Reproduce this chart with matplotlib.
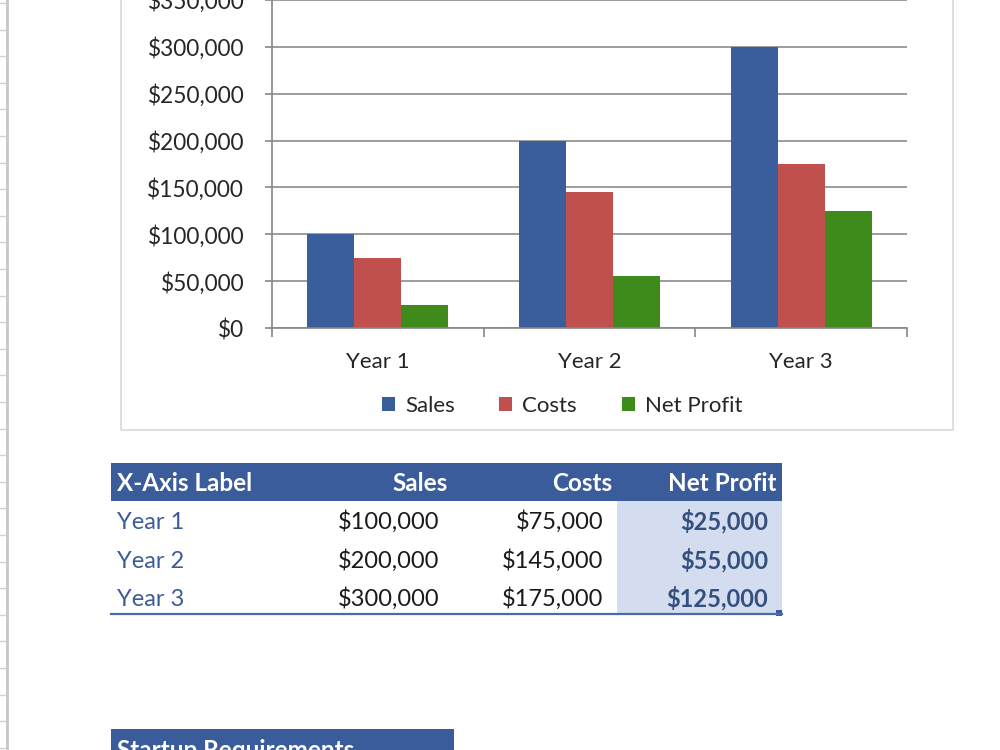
import numpy as np
import matplotlib.pyplot as plt
from matplotlib.patches import Rectangle
from matplotlib.lines import Line2D
from matplotlib.ticker import FuncFormatter

plt.rcParams['font.family'] = ['Lato', 'DejaVu Sans']

years = ['Year 1', 'Year 2', 'Year 3']
sales = [100000, 200000, 300000]
costs = [75000, 145000, 175000]
net_profit = [25000, 55000, 125000]
series_names = ['Sales', 'Costs', 'Net Profit']
series_colors = ['#3A5D9C', '#C0504D', '#3E8A1A']
table_header = ['X-Axis Label', 'Sales', 'Costs', 'Net Profit']

W, H = 1000, 750


def fx(px):
    return px / W


def fy(py):
    return 1 - py / H


def money(v, pos=None):
    return f'${v:,.0f}'


fig = plt.figure(figsize=(10, 7.5), dpi=100)

# spreadsheet row headers at the left edge
fig.add_artist(Line2D([fx(6.5), fx(6.5)], [0, 1], color='#C6C6C6', lw=2))
for py in np.arange(3, H, 26.6):
    fig.add_artist(Line2D([0, fx(6)], [fy(py), fy(py)], color='#D0D0D0', lw=1))

# chart area border
fig.add_artist(Rectangle((fx(121), fy(430)), fx(832), 1.2, transform=fig.transFigure,
                         fill=False, edgecolor='#D9D9D9', lw=1.2))

ax = fig.add_axes([fx(272), fy(328), fx(907 - 272), fy(0) - fy(328)])
x = np.arange(len(years))
bw = 0.222
for i, (vals, name, col) in enumerate(zip([sales, costs, net_profit], series_names, series_colors)):
    ax.bar(x + (i - 1) * bw, vals, width=bw, color=col, label=name, zorder=3)

ax.set_xlim(-0.5, len(years) - 0.5)
ax.set_ylim(0, 350000)
ax.set_yticks(np.arange(0, 350001, 50000))
ax.yaxis.set_major_formatter(FuncFormatter(money))
ax.set_xticks(x)
ax.set_xticklabels(years)
ax.set_xticks(np.arange(-0.5, len(years), 1), minor=True)
ax.tick_params(axis='x', which='major', length=0, pad=17.5, labelsize=16, labelcolor='#262626')
ax.tick_params(axis='x', which='minor', length=6.5, width=1.2, color='#868686')
ax.tick_params(axis='y', length=5, width=1.2, color='#868686', pad=15, labelsize=16.3,
               labelcolor='#262626')
ax.grid(axis='y', color='#8C8C8C', lw=1.2, zorder=0)
for s in ['top', 'right']:
    ax.spines[s].set_visible(False)
for s in ['left', 'bottom']:
    ax.spines[s].set_color('#868686')
    ax.spines[s].set_linewidth(1.2)
    ax.spines[s].set_zorder(4)

fig.legend(loc='center', bbox_to_anchor=(fx(562), fy(406)), ncol=3, frameon=False,
           fontsize=16, handlelength=0.6, handleheight=0.6, handletextpad=0.45,
           columnspacing=2.0, labelcolor='#262626')

# data table under the chart
fig.add_artist(Rectangle((fx(111), fy(501)), fx(671), fy(463) - fy(501),
                         transform=fig.transFigure, color='#3A5C9A', lw=0))
fig.add_artist(Rectangle((fx(617), fy(614)), fx(165), fy(501) - fy(614),
                         transform=fig.transFigure, color='#D3DDEF', lw=0))
fig.add_artist(Line2D([fx(111), fx(782)], [fy(614), fy(614)], color='#4A6BA6', lw=1.6))
fig.add_artist(Rectangle((fx(776), fy(616)), fx(6), fy(610) - fy(616),
                         transform=fig.transFigure, color='#3A5C9A', lw=0))

hdr_x = [117, 448, 612, 777]
hdr_ha = ['left', 'right', 'right', 'right']
for txt, px, ha in zip(table_header, hdr_x, hdr_ha):
    fig.text(fx(px), fy(491), txt, ha=ha, va='baseline', color='white',
             fontsize=17.5, fontweight='bold')

row_base = [529, 568, 606]
for yr, s, c, n, py in zip(years, sales, costs, net_profit, row_base):
    fig.text(fx(117), fy(py), yr, ha='left', va='baseline', color='#3B5C99', fontsize=17)
    fig.text(fx(439), fy(py), money(s), ha='right', va='baseline', color='#1A1A1A', fontsize=17)
    fig.text(fx(603), fy(py), money(c), ha='right', va='baseline', color='#1A1A1A', fontsize=17)
    fig.text(fx(768), fy(py), money(n), ha='right', va='baseline', color='#34507F',
             fontsize=17, fontweight='bold')

# next table header, cut off by the bottom edge
fig.add_artist(Rectangle((fx(111), 0), fx(343), fy(729), transform=fig.transFigure,
                         color='#3A5C9A', lw=0))
fig.text(fx(117), fy(739), 'Startup Requirements', ha='left', va='top', color='white',
         fontsize=17.5, fontweight='bold')

fig.savefig('out.png', dpi=100)
